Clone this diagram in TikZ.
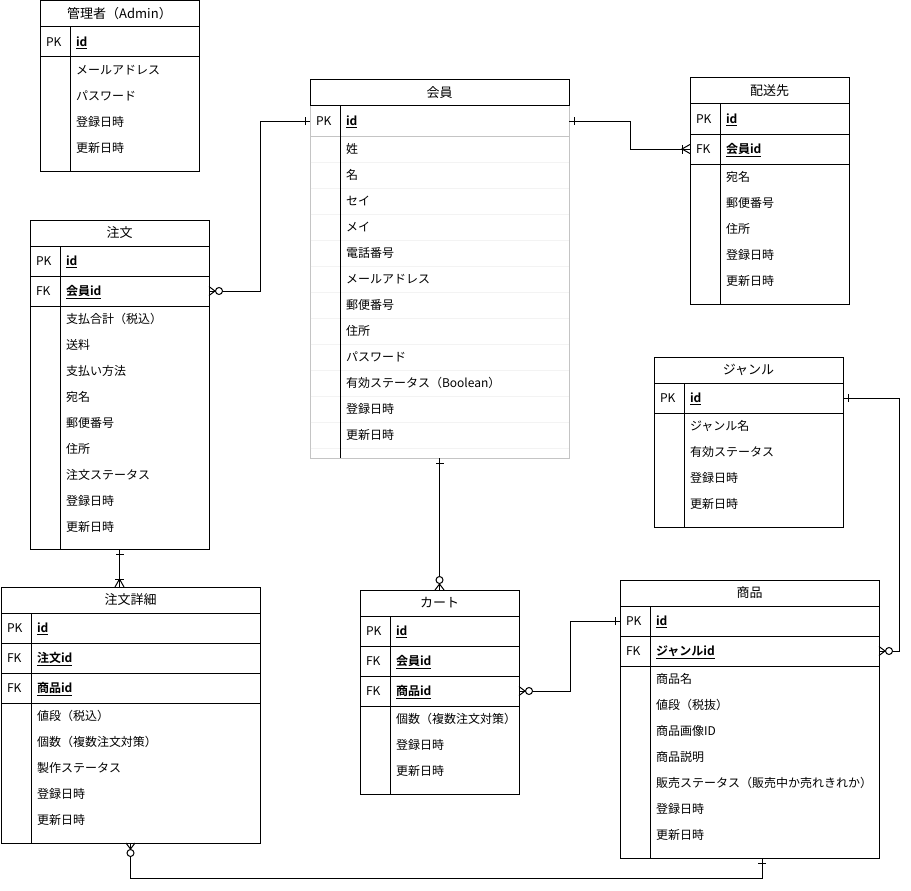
\documentclass[tikz,border=0pt]{standalone}
\usepackage{fontspec}
\setmainfont{Noto Sans CJK JP}[BoldFont={Noto Sans CJK JP Bold}]
\usetikzlibrary{calc}

\definecolor{bodygray}{HTML}{C4C4C4}
\definecolor{rulegray}{HTML}{F3F3F3}

\tikzset{
  er/.style={x=1pt, y=-1pt, line width=1pt},
  tbox/.style={draw, anchor=north west, inner sep=0pt, outer sep=0pt},
  thead/.style={draw, anchor=north west, inner sep=0pt, outer sep=0pt,
    minimum height=26pt, text height=10.4pt, text depth=1pt,
    font=\fontsize{13}{15}\selectfont},
  krow/.style={draw, anchor=north west, inner sep=0pt, outer sep=0pt,
    minimum height=30pt},
  celltxt/.style={anchor=base west, inner sep=0pt, outer sep=0pt,
    font=\fontsize{12}{14}\selectfont},
  graybody/.style={draw=bodygray},
  sepline/.style={draw=rulegray, line width=1pt},
  conn/.style={line width=1pt},
  % relationship ends, drawn pointing away from the entity along +x
  erone/.pic={\draw[line width=1pt] (5,-4) -- (5,4);},
  erzmany/.pic={\draw[line width=1pt] (0,-4.5) -- (6,0) -- (0,4.5);
                \draw[line width=1pt, fill=white] (10,0) circle (3.5pt);},
  eronemany/.pic={\draw[line width=1pt] (0,-4.5) -- (8,0) -- (0,4.5);
                  \draw[line width=1pt] (8,-4.5) -- (8,4.5);},
}

% table frame and title: [style] name, x, y, width, height, title
\newcommand\ertable[7][]{%
  \def\tw{#5}%
  \node[tbox, #1, minimum width=#5pt, minimum height=#6pt] (#2) at (#3,#4) {};
  \node[thead, minimum width=#5pt] (#2-h) at (#3,#4) {#7};
}
% key row: [style] table, index, key label, field
\newcommand\keyrow[5][]{%
  \node[krow, #1, minimum width=\tw pt] (#2-k#3) at ($(#2-h.south west)+(0,{30*#3})$) {};
  \node[celltxt] (#2-k#3-l) at ($(#2-k#3.west)+(6,4.5)$) {#4};
  \node[celltxt] (#2-k#3-f) at ($(#2-k#3.west)+(36,4.5)$) {\underline{\textbf{#5}}};
}
% attribute list: table, number of key rows, items
\newcommand\attrs[3]{%
  \foreach \t [count=\i] in {#3} {
    \node[celltxt] (#1-a\i) at ($(#1-h.south west)+(36,{30*#2+13+26*(\i-1)+4.5})$) {\t};
  }
}
% column divider below the title
\newcommand\divider[2][]{%
  \draw[#1] ([xshift=30pt]#2-h.south west) -- ([xshift=30pt]#2.south west);
}

\begin{document}
\begin{tikzpicture}[er]
\useasboundingbox (0,0) rectangle (911,891);

% 管理者
\ertable{adm}{40}{1}{159}{170}{管理者（Admin）}
\keyrow{adm}{0}{PK}{id}
\attrs{adm}{1}{メールアドレス,パスワード,登録日時,更新日時}
\divider{adm}

% 会員
\ertable[graybody]{mem}{310}{80}{259}{378}{会員}
\foreach \i in {1,...,12}
  \draw[sepline] ($(mem-h.south west)+(0.5,{30+26*\i})$) -- ++(258,0);
\keyrow[draw=none]{mem}{0}{PK}{id}
\draw[graybody] (mem-k0.south west) -- (mem-k0.south east);
\draw (mem-h.south west) -- (mem-h.south east);
\attrs{mem}{1}{姓,名,セイ,メイ,電話番号,メールアドレス,郵便番号,住所,パスワード,有効ステータス（Boolean）,登録日時,更新日時}
\divider{mem}

% 配送先
\ertable{dst}{690}{78}{159}{226}{配送先}
\keyrow{dst}{0}{PK}{id}
\keyrow{dst}{1}{FK}{会員id}
\attrs{dst}{2}{宛名,郵便番号,住所,登録日時,更新日時}
\divider{dst}

% 注文
\ertable{ord}{30}{220}{179}{329}{注文}
\keyrow{ord}{0}{PK}{id}
\keyrow{ord}{1}{FK}{会員id}
\attrs{ord}{2}{支払合計（税込）,送料,支払い方法,宛名,郵便番号,住所,注文ステータス,登録日時,更新日時}
\divider{ord}

% ジャンル
\ertable{gen}{654}{357}{189}{170}{ジャンル}
\keyrow{gen}{0}{PK}{id}
\attrs{gen}{1}{ジャンル名,有効ステータス,登録日時,更新日時}
\divider{gen}

% 注文詳細
\ertable{det}{1}{587}{259}{256}{注文詳細}
\keyrow{det}{0}{PK}{id}
\keyrow{det}{1}{FK}{注文id}
\keyrow{det}{2}{FK}{商品id}
\attrs{det}{3}{値段（税込）,個数（複数注文対策）,製作ステータス,登録日時,更新日時}
\divider{det}

% カート
\ertable{cart}{360}{590}{159}{204}{カート}
\keyrow{cart}{0}{PK}{id}
\keyrow{cart}{1}{FK}{会員id}
\keyrow{cart}{2}{FK}{商品id}
\attrs{cart}{3}{個数（複数注文対策）,登録日時,更新日時}
\divider{cart}

% 商品
\ertable{item}{620}{580}{259}{278}{商品}
\keyrow{item}{0}{PK}{id}
\keyrow{item}{1}{FK}{ジャンルid}
\attrs{item}{2}{商品名,値段（税抜）,商品画像ID,商品説明,販売ステータス（販売中か売れきれか）,登録日時,更新日時}
\divider{item}

% relationships
\draw[conn] (ord-k1.east) -- ++(51,0) |- (mem-k0.west);
\draw[conn] (mem-k0.east) -- ++(61,0) |- (dst-k1.west);
\draw[conn] (mem.south) -- (cart.north);
\draw[conn] (ord.south) -- (ord.south |- det.north);
\draw[conn] (cart-k2.east) -- ++(51,0) |- (item-k0.west);
\draw[conn] (item-k1.east) -- ++(20,0) |- (gen-k0.east);
\draw[conn] (det.south) -- ++(0,35) -| ([xshift=12.5pt]item.south);

% relationship ends
\pic[rotate=180] at (mem-k0.west) {erone};
\pic at (ord-k1.east) {erzmany};
\pic at (mem-k0.east) {erone};
\pic[rotate=180] at (dst-k1.west) {eronemany};
\pic[rotate=-90] at (mem.south) {erone};
\pic[rotate=90] at (cart.north) {erzmany};
\pic[rotate=-90] at (ord.south) {erone};
\pic[rotate=90] at (ord.south |- det.north) {eronemany};
\pic at (cart-k2.east) {erzmany};
\pic[rotate=180] at (item-k0.west) {erone};
\pic at (item-k1.east) {erzmany};
\pic at (gen-k0.east) {erone};
\pic[rotate=-90] at (det.south) {erzmany};
\pic[rotate=-90] at ([xshift=12.5pt]item.south) {erone};
\end{tikzpicture}
\end{document}
